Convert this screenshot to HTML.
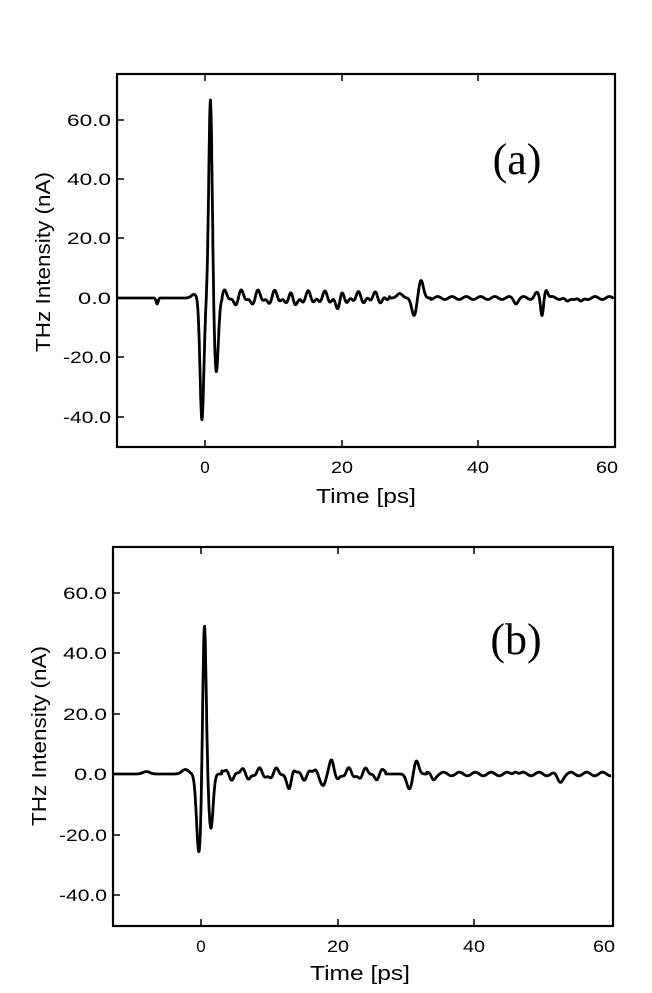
<!DOCTYPE html>
<html><head><meta charset="utf-8"><style>
body{margin:0;background:#fff;}
svg{display:block;font-family:"Liberation Sans",Arial,sans-serif;}
</style></head><body>
<svg id="s" width="652" height="993" viewBox="0 0 652 993" xmlns="http://www.w3.org/2000/svg">
<rect width="652" height="993" fill="#fff"/>
<rect x="117" y="74" width="498" height="373" fill="none" stroke="#000" stroke-width="2.2"/>
<g stroke="#000" stroke-width="1.5">
<line x1="117" y1="120" x2="124" y2="120"/><line x1="117" y1="179" x2="124" y2="179"/><line x1="117" y1="238" x2="124" y2="238"/><line x1="117" y1="298" x2="124" y2="298"/><line x1="117" y1="357" x2="124" y2="357"/><line x1="117" y1="417" x2="124" y2="417"/>
<line x1="205" y1="447" x2="205" y2="440"/><line x1="342" y1="447" x2="342" y2="440"/><line x1="478" y1="447" x2="478" y2="440"/>
<line x1="205" y1="74" x2="205" y2="81"/><line x1="342" y1="74" x2="342" y2="81"/><line x1="478" y1="74" x2="478" y2="81"/>
</g>
<g font-size="17" text-anchor="end" fill="#000" lengthAdjust="spacingAndGlyphs">
<text x="111" y="126" textLength="44" lengthAdjust="spacingAndGlyphs">60.0</text><text x="111" y="185" textLength="44" lengthAdjust="spacingAndGlyphs">40.0</text><text x="111" y="244" textLength="44" lengthAdjust="spacingAndGlyphs">20.0</text><text x="111" y="304" textLength="33" lengthAdjust="spacingAndGlyphs">0.0</text><text x="111" y="363" textLength="48" lengthAdjust="spacingAndGlyphs">-20.0</text><text x="111" y="423" textLength="48" lengthAdjust="spacingAndGlyphs">-40.0</text>
</g>
<g font-size="17" text-anchor="middle"><text x="205" y="473">0</text><text x="342" y="473" textLength="22" lengthAdjust="spacingAndGlyphs">20</text><text x="478" y="473" textLength="22" lengthAdjust="spacingAndGlyphs">40</text><text x="607" y="473" textLength="22" lengthAdjust="spacingAndGlyphs">60</text></g>
<text x="366" y="503" font-size="20" text-anchor="middle" textLength="100" lengthAdjust="spacingAndGlyphs">Time [ps]</text>
<text transform="translate(50,262) rotate(-90)" font-size="20" text-anchor="middle" textLength="180" lengthAdjust="spacingAndGlyphs">THz Intensity (nA)</text>
<text x="517" y="174" font-size="44" text-anchor="middle" font-family="Liberation Serif,serif">(a)</text>
<path id="pa" fill="none" stroke="#000" stroke-width="2.8" stroke-linejoin="round"/>
<rect x="113" y="547" width="500" height="379" fill="none" stroke="#000" stroke-width="2.2"/>
<g stroke="#000" stroke-width="1.5">
<line x1="113" y1="593" x2="120" y2="593"/><line x1="113" y1="653" x2="120" y2="653"/><line x1="113" y1="714" x2="120" y2="714"/><line x1="113" y1="774" x2="120" y2="774"/><line x1="113" y1="835" x2="120" y2="835"/><line x1="113" y1="895" x2="120" y2="895"/>
<line x1="201" y1="926" x2="201" y2="919"/><line x1="338" y1="926" x2="338" y2="919"/><line x1="474" y1="926" x2="474" y2="919"/>
<line x1="201" y1="547" x2="201" y2="554"/><line x1="338" y1="547" x2="338" y2="554"/><line x1="474" y1="547" x2="474" y2="554"/>
</g>
<g font-size="17" text-anchor="end" fill="#000">
<text x="107" y="599" textLength="44" lengthAdjust="spacingAndGlyphs">60.0</text><text x="107" y="659" textLength="44" lengthAdjust="spacingAndGlyphs">40.0</text><text x="107" y="720" textLength="44" lengthAdjust="spacingAndGlyphs">20.0</text><text x="107" y="780" textLength="33" lengthAdjust="spacingAndGlyphs">0.0</text><text x="107" y="841" textLength="48" lengthAdjust="spacingAndGlyphs">-20.0</text><text x="107" y="901" textLength="48" lengthAdjust="spacingAndGlyphs">-40.0</text>
</g>
<g font-size="17" text-anchor="middle"><text x="201" y="952">0</text><text x="338" y="952" textLength="22" lengthAdjust="spacingAndGlyphs">20</text><text x="474" y="952" textLength="22" lengthAdjust="spacingAndGlyphs">40</text><text x="604" y="952" textLength="22" lengthAdjust="spacingAndGlyphs">60</text></g>
<text x="360" y="980" font-size="20" text-anchor="middle" textLength="100" lengthAdjust="spacingAndGlyphs">Time [ps]</text>
<text transform="translate(46,736) rotate(-90)" font-size="20" text-anchor="middle" textLength="180" lengthAdjust="spacingAndGlyphs">THz Intensity (nA)</text>
<text x="516" y="654" font-size="44" text-anchor="middle" font-family="Liberation Serif,serif">(b)</text>
<path id="pb" fill="none" stroke="#000" stroke-width="2.8" stroke-linejoin="round"/>
</svg>
<script>
function g(t,c,w,a){return a*Math.exp(-((t-c)*(t-c))/(2*w*w));}
function fa(t){
 var y=g(t,-7,0.15,-2)+g(t,-1.6,0.4,1.2)+g(t,-0.45,0.28,-41)+g(t,0.8,0.25,67)+g(t,1.65,0.3,-25);
 if(t>2.5&&t<27){y+=2*Math.sin(t*2.6)*Math.exp(-(t-3)/40)+1*Math.sin(t*5.1);}
 y+=g(t,13,0.3,-2)+g(t,19.5,0.3,-3)+g(t,28.5,0.4,1.5);
 y+=g(t,30.6,0.35,-6)+g(t,31.6,0.35,6)+g(t,45.5,0.3,-1.5)+g(t,48.5,0.3,1.5)+g(t,49.3,0.2,-6)+g(t,49.9,0.25,3)+g(t,53,0.3,-1.5)+g(t,55,0.3,-1.5);
 if(t>33&&t<60)y+=0.5*Math.sin(t*3);
 return y;}
function fb(t){
 var y=g(t,-8,0.5,0.8)+g(t,-2.3,0.5,1.5)+g(t,-0.3,0.35,-26)+g(t,0.5,0.25,51)+g(t,1.45,0.32,-18);
 if(t>3&&t<27)y+=1.5*Math.sin(t*2.4)+0.6*Math.sin(t*5.3);
 y+=g(t,13,0.3,-4)+g(t,18,0.3,-3)+g(t,19,0.3,3);
 y+=g(t,30.5,0.4,-5)+g(t,31.5,0.35,4.5)+g(t,34,0.3,-1.5)+g(t,46,0.3,1.2)+g(t,52.5,0.4,-2.5);
 if(t>33&&t<60)y+=0.6*Math.sin(t*2.7);
 return y;}
function build(id,f,x0,xs,y0,ys,t0,t1){
 var d="";for(var t=t0;t<=t1;t+=0.04){var X=x0+t*xs,Y=y0-f(t)*ys;d+=(d?"L":"M")+X.toFixed(1)+" "+Y.toFixed(1);}
 document.getElementById(id).setAttribute("d",d);}
build("pa",fa,205,136.7/20,298,59.5/20,-12.8,59.8);
build("pb",fb,201,136.7/20,774,60.4/20,-12.8,60);
</script>
</body></html>
